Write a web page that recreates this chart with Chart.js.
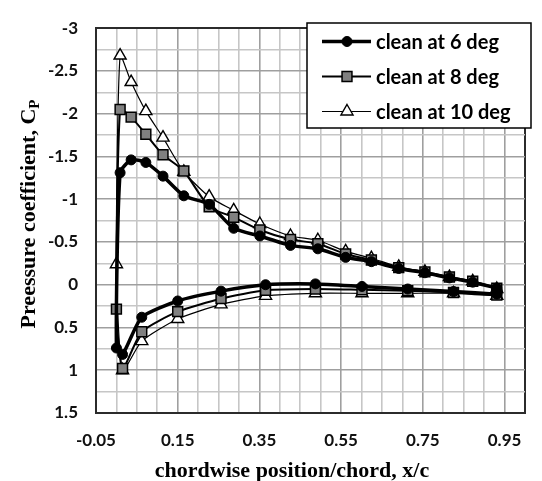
<!DOCTYPE html>
<html lang="en">
<head>
<meta charset="UTF-8">
<title>Pressure coefficient</title>
<script src="https://cdn.jsdelivr.net/npm/chart.js@4"></script>
<style>
  body { margin: 0; background: #fff; }
  canvas { display: block; }
</style>
</head>
<body>
<canvas id="cpChart" width="542" height="481"></canvas>
<script>
// tap positions x/c, upper surface from the nose back
const upperX = [0.009, 0.036, 0.072, 0.114, 0.165, 0.227, 0.287, 0.351, 0.426, 0.493, 0.561, 0.624, 0.691, 0.755, 0.815, 0.872, 0.931];
// stagnation tap
const noseX = 0;
// lower surface taps
const lowerX = [0.015, 0.062, 0.15, 0.256, 0.365, 0.487, 0.601, 0.713, 0.825, 0.931];

const seriesNames = ['clean at 6 deg', 'clean at 8 deg', 'clean at 10 deg'];

// Cp readings, 6 deg
const upper6 = [-1.31, -1.46, -1.43, -1.27, -1.04, -0.94, -0.66, -0.57, -0.46, -0.42, -0.32, -0.27, -0.19, -0.14, -0.08, -0.03, 0.04];
const nose6 = 0.74;
const lower6 = [0.815, 0.38, 0.19, 0.075, 0.0, -0.01, 0.02, 0.05, 0.08, 0.11];

// 8 deg
const upper8 = [-2.05, -1.96, -1.76, -1.52, -1.33, -0.91, -0.79, -0.64, -0.53, -0.48, -0.36, -0.29, -0.2, -0.15, -0.09, -0.04, 0.04];
const nose8 = 0.285;
const lower8 = [0.98, 0.55, 0.315, 0.163, 0.065, 0.05, 0.06, 0.07, 0.09, 0.12];

// 10 deg
const upper10 = [-2.68, -2.37, -2.03, -1.72, -1.32, -1.03, -0.87, -0.71, -0.57, -0.52, -0.39, -0.31, -0.21, -0.15, -0.09, -0.04, 0.05];
const nose10 = -0.24;
const lower10 = [1.0, 0.66, 0.40, 0.23, 0.13, 0.1, 0.1, 0.1, 0.1, 0.13];

const xTickLabels = ['-0.05', '0.15', '0.35', '0.55', '0.75', '0.95'];
const yTickLabels = ['-3', '-2.5', '-2', '-1.5', '-1', '-0.5', '0', '0.5', '1', '1.5'];

const X_MIN = -0.05, X_MAX = 1.0, X_STEP = 0.05;
const Y_MIN = -3, Y_MAX = 1.5, Y_STEP = 0.25;

// walk round the section: trailing edge -> nose -> trailing edge
function section(upper, nose, lower) {
  const pts = [];
  for (let i = upper.length - 1; i >= 0; i--) pts.push({ x: upperX[i], y: upper[i] });
  pts.push({ x: noseX, y: nose });
  lower.forEach((v, i) => pts.push({ x: lowerX[i], y: v }));
  return pts;
}

function stepTicks(min, max, step) {
  const out = [];
  const n = Math.round((max - min) / step);
  for (let i = 0; i <= n; i++) out.push({ value: Math.round((min + i * step) * 1000) / 1000 });
  return out;
}

function findLabel(list, v) {
  return list.find(s => Math.abs(parseFloat(s) - v) < 1e-6);
}

function gridColor(list, min, max) {
  return ctx => {
    const v = ctx.tick.value;
    if (Math.abs(v - min) < 1e-6 || Math.abs(v - max) < 1e-6) return '#2b2b2b';
    return findLabel(list, v) !== undefined ? '#9f9f9f' : '#c6c6c6';
  };
}
function gridWidth(min, max) {
  return ctx => {
    const v = ctx.tick.value;
    return (Math.abs(v - min) < 1e-6 || Math.abs(v - max) < 1e-6) ? 2 : 1.6;
  };
}

// axis titles and the boxed legend
const decorations = {
  id: 'decorations',
  afterDraw(chart) {
    const ctx = chart.ctx;
    ctx.save();
    ctx.fillStyle = '#000';

    // x title
    ctx.font = 'bold 22px "Liberation Serif"';
    ctx.textAlign = 'center';
    ctx.textBaseline = 'alphabetic';
    ctx.fillText('chordwise position/chord, x/c', 292, 477);

    // y title with subscript
    const main = 'Preessure coefficient, C';
    const sub = 'P';
    ctx.save();
    ctx.translate(35, 214);
    ctx.rotate(-Math.PI / 2);
    ctx.font = 'bold 22px "Liberation Serif"';
    const wMain = ctx.measureText(main).width;
    ctx.font = 'bold 15px "Liberation Serif"';
    const wSub = ctx.measureText(sub).width;
    const x0 = -(wMain + wSub) / 2;
    ctx.textAlign = 'left';
    ctx.font = 'bold 22px "Liberation Serif"';
    ctx.fillText(main, x0, 0);
    ctx.font = 'bold 15px "Liberation Serif"';
    ctx.fillText(sub, x0 + wMain, 4);
    ctx.restore();

    // legend
    const box = { l: 307, t: 23, r: 531, b: 128 };
    ctx.fillStyle = '#fff';
    ctx.fillRect(box.l, box.t, box.r - box.l, box.b - box.t);
    ctx.strokeStyle = '#000';
    ctx.lineWidth = 1.5;
    ctx.strokeRect(box.l, box.t, box.r - box.l, box.b - box.t);
    ctx.font = 'bold 20px Lato';
    ctx.textAlign = 'left';
    ctx.textBaseline = 'middle';
    chart.data.datasets.forEach((ds, i) => {
      const y = 41.5 + i * 35;
      ctx.strokeStyle = ds.borderColor;
      ctx.lineWidth = ds.borderWidth;
      ctx.beginPath();
      ctx.moveTo(322, y);
      ctx.lineTo(371, y);
      ctx.stroke();
      ctx.fillStyle = ds.pointBackgroundColor;
      ctx.strokeStyle = ds.pointBorderColor;
      ctx.lineWidth = ds.pointBorderWidth;
      Chart.helpers.drawPoint(ctx, {
        pointStyle: ds.pointStyle, radius: ds.pointRadius,
        borderWidth: ds.pointBorderWidth, rotation: 0
      }, 347, y);
      ctx.fillStyle = '#000';
      ctx.fillText(ds.label, 376, y + 1);
    });
    ctx.restore();
  }
};

new Chart(document.getElementById('cpChart'), {
  type: 'scatter',
  data: {
    datasets: [
      {
        label: seriesNames[0],
        data: section(upper6, nose6, lower6),
        showLine: true,
        borderColor: '#000',
        borderWidth: 3.5,
        pointStyle: 'circle',
        pointRadius: 5,
        pointBackgroundColor: '#000',
        pointBorderColor: '#000',
        pointBorderWidth: 1,
        tension: 0.2
      },
      {
        label: seriesNames[1],
        data: section(upper8, nose8, lower8),
        showLine: true,
        borderColor: '#000',
        borderWidth: 2,
        pointStyle: 'rect',
        pointRadius: 7,
        pointBackgroundColor: '#808080',
        pointBorderColor: '#000',
        pointBorderWidth: 1.5,
        tension: 0.2
      },
      {
        label: seriesNames[2],
        data: section(upper10, nose10, lower10),
        showLine: true,
        borderColor: '#000',
        borderWidth: 1.2,
        pointStyle: 'triangle',
        pointRadius: 7,
        pointBackgroundColor: '#fff',
        pointBorderColor: '#000',
        pointBorderWidth: 1.4,
        tension: 0.2
      }
    ]
  },
  options: {
    responsive: false,
    animation: false,
    layout: { padding: { left: 0, right: 2, top: 16, bottom: 0 } },
    plugins: {
      legend: { display: false },
      tooltip: { enabled: false }
    },
    scales: {
      x: {
        type: 'linear',
        min: X_MIN,
        max: X_MAX,
        afterBuildTicks: s => { s.ticks = stepTicks(X_MIN, X_MAX, X_STEP); },
        afterFit: s => { s.height = 68; },
        grid: { color: gridColor(xTickLabels, X_MIN, X_MAX), lineWidth: gridWidth(X_MIN, X_MAX), drawTicks: false },
        border: { display: true, color: '#2b2b2b', width: 2 },
        ticks: {
          autoSkip: false,
          maxRotation: 0,
          padding: 17,
          color: '#111',
          font: { family: 'Lato', weight: 'bold', size: 17 },
          callback: v => findLabel(xTickLabels, v) ?? ''
        }
      },
      y: {
        type: 'linear',
        reverse: true,
        min: Y_MIN,
        max: Y_MAX,
        afterBuildTicks: s => { s.ticks = stepTicks(Y_MIN, Y_MAX, Y_STEP); },
        afterFit: s => { s.width = 96; },
        grid: { color: gridColor(yTickLabels, Y_MIN, Y_MAX), lineWidth: gridWidth(Y_MIN, Y_MAX), drawTicks: false },
        border: { display: true, color: '#2b2b2b', width: 2 },
        ticks: {
          autoSkip: false,
          padding: 18,
          color: '#111',
          font: { family: 'Lato', weight: 'bold', size: 17 },
          callback: v => findLabel(yTickLabels, v) ?? ''
        }
      }
    }
  },
  plugins: [decorations]
});
</script>
</body>
</html>
